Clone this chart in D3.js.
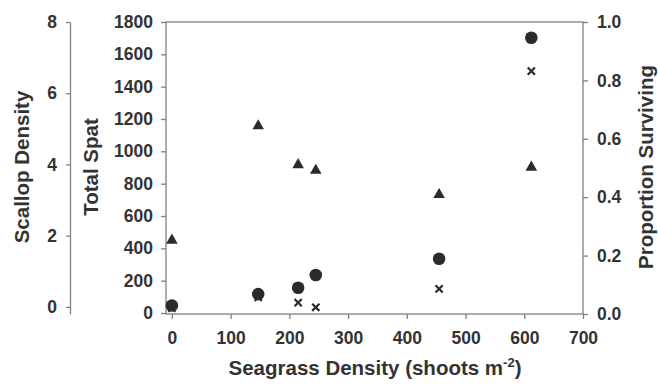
<!DOCTYPE html>
<html>
<head>
<meta charset="utf-8">
<script src="https://cdn.jsdelivr.net/npm/d3@7"></script>
<style>
  body { margin: 0; background: #fff; }
  svg { display: block; font-family: "Liberation Sans", Arial, sans-serif; font-weight: bold; }
</style>
</head>
<body>
<div id="chart"></div>
<script>
// values
const seagrass = [0, 147, 215, 245, 455, 612];
const totalSpat = [46, 117, 156, 235, 336, 1703];
const scallopDensity = [1.87, 5.08, 3.99, 3.83, 3.15, 3.92];
const propSurviving = [0.02, 0.057, 0.039, 0.023, 0.086, 0.832];

const xTicks = [0, 100, 200, 300, 400, 500, 600, 700];
const spatTicks = [0, 200, 400, 600, 800, 1000, 1200, 1400, 1600, 1800];
const scallopTicks = [0, 2, 4, 6, 8];
const propTicks = [0, 0.2, 0.4, 0.6, 0.8, 1.0];

const width = 658, height = 384;
const plot = { left: 166, right: 583, top: 22, bottom: 314 };
const textColor = "#333";
const lineColor = "#808080";
const markColor = "#2b2b2b";

const svg = d3.select("#chart").append("svg")
    .attr("width", width)
    .attr("height", height);

// scales
const x = d3.scaleLinear().domain([-10, 700]).range([plot.left, plot.right]);
const ySpat = d3.scaleLinear().domain([0, 1800]).range([313, plot.top]);
const yProp = d3.scaleLinear().domain([0, 1]).range([plot.bottom, plot.top]);
const yScallop = d3.scaleLinear().domain([-0.2, 8]).range([plot.bottom, plot.top]);

function styleAxis(g) {
    g.selectAll("path, line").attr("stroke", lineColor).attr("stroke-width", 1.3);
    g.selectAll("text")
        .attr("fill", textColor)
        .style("font-size", "17.5px")
        .style("font-weight", "bold")
        .style("font-family", "'Liberation Sans', Arial, sans-serif");
}

// plot frame
svg.append("rect")
    .attr("x", plot.left).attr("y", plot.top)
    .attr("width", plot.right - plot.left)
    .attr("height", plot.bottom - plot.top)
    .attr("fill", "none")
    .attr("stroke", lineColor)
    .attr("stroke-width", 1.3);

// bottom axis
svg.append("g")
    .attr("transform", `translate(0,${plot.bottom})`)
    .call(d3.axisBottom(x).tickValues(xTicks).tickFormat(d3.format("d"))
        .tickSize(5).tickSizeOuter(0).tickPadding(13))
    .call(g => g.select(".domain").remove())
    .call(styleAxis);

// total spat axis (left, on frame)
svg.append("g")
    .attr("transform", `translate(${plot.left},0)`)
    .call(d3.axisLeft(ySpat).tickValues(spatTicks).tickFormat(d3.format("d"))
        .tickSize(5).tickSizeOuter(0).tickPadding(8))
    .call(g => g.select(".domain").remove())
    .call(styleAxis);

// proportion surviving axis (right)
svg.append("g")
    .attr("transform", `translate(${plot.right},0)`)
    .call(d3.axisRight(yProp).tickValues(propTicks).tickFormat(d3.format(".1f"))
        .tickSize(5).tickSizeOuter(0).tickPadding(9))
    .call(g => g.select(".domain").remove())
    .call(styleAxis);

// scallop density axis (far left, detached)
svg.append("g")
    .attr("transform", "translate(70,0)")
    .call(d3.axisLeft(yScallop).tickValues(scallopTicks).tickFormat(d3.format("d"))
        .tickSize(4).tickSizeOuter(0).tickPadding(9))
    .call(styleAxis);

// axis titles
function title(tx, ty, rot, txt) {
    return svg.append("text")
        .attr("transform", `translate(${tx},${ty}) rotate(${rot})`)
        .attr("text-anchor", "middle")
        .attr("fill", textColor)
        .style("font-size", "20.5px")
        .text(txt);
}
title(28.5, 167, -90, "Scallop Density");
title(98, 167, -90, "Total Spat");
title(653, 167, -90, "Proportion Surviving");

const xt = svg.append("text")
    .attr("x", 375).attr("y", 375)
    .attr("text-anchor", "middle")
    .attr("fill", textColor)
    .style("font-size", "20.5px")
    .text("Seagrass Density (shoots m");
xt.append("tspan").attr("dy", -8).style("font-size", "13px").text("-2");
xt.append("tspan").attr("dy", 8).text(")");

// markers
const pts = seagrass.map((s, i) => ({
    s, spat: totalSpat[i], scallop: scallopDensity[i], prop: propSurviving[i]
}));

// triangles: scallop density
svg.append("g").selectAll("path")
    .data(pts).join("path")
    .attr("transform", d => `translate(${x(d.s)},${yScallop(d.scallop)})`)
    .attr("d", d3.symbol(d3.symbolTriangle, 58))
    .attr("fill", markColor);

// crosses: proportion surviving
svg.append("g").selectAll("path")
    .data(pts).join("path")
    .attr("transform", d => `translate(${x(d.s)},${yProp(d.prop)})`)
    .attr("d", "M-3.6,-3.6L3.6,3.6M-3.6,3.6L3.6,-3.6")
    .attr("stroke", markColor)
    .attr("stroke-width", 2.2)
    .attr("fill", "none");

// circles: total spat
svg.append("g").selectAll("circle")
    .data(pts).join("circle")
    .attr("cx", d => x(d.s))
    .attr("cy", d => ySpat(d.spat))
    .attr("r", 6.3)
    .attr("fill", markColor);
</script>
</body>
</html>
